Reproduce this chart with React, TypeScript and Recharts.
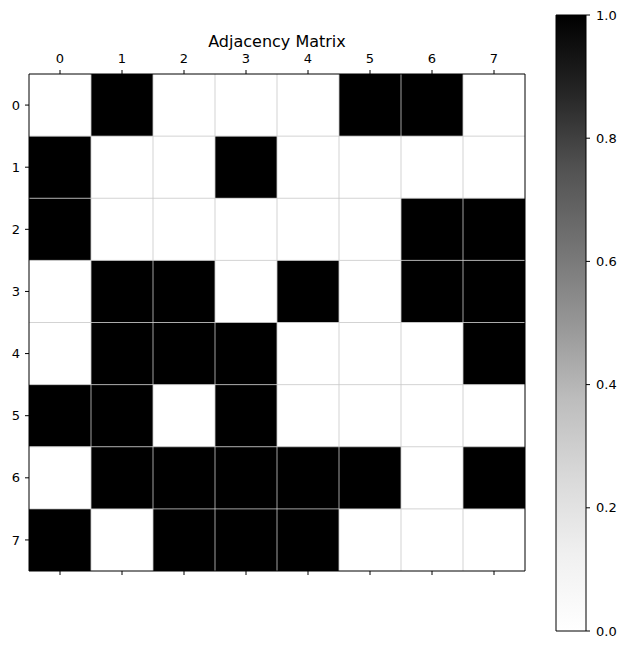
import React from 'react';
import { ComposedChart, XAxis, YAxis, ReferenceArea, ReferenceLine, Scatter, Bar } from 'recharts';

const TITLE = 'Adjacency Matrix';
const NODE_TICKS = [0, 1, 2, 3, 4, 5, 6, 7];
const COLORBAR_TICKS = [0, 0.2, 0.4, 0.6, 0.8, 1.0];

const row0 = [0, 1, 0, 0, 0, 1, 1, 0];
const row1 = [1, 0, 0, 1, 0, 0, 0, 0];
const row2 = [1, 0, 0, 0, 0, 0, 1, 1];
const row3 = [0, 1, 1, 0, 1, 0, 1, 1];
const row4 = [0, 1, 1, 1, 0, 0, 0, 1];
const row5 = [1, 1, 0, 1, 0, 0, 0, 0];
const row6 = [0, 1, 1, 1, 1, 1, 0, 1];
const row7 = [1, 0, 1, 1, 1, 0, 0, 0];
const MATRIX = [row0, row1, row2, row3, row4, row5, row6, row7];

// matplotlib "Greys" colormap stops
const GREYS = ['#ffffff', '#f0f0f0', '#d9d9d9', '#bdbdbd', '#969696', '#737373', '#525252', '#252525', '#000000'];

const FONT = 'DejaVu Sans';

function hexToRgb(h: string) {
  const n = parseInt(h.slice(1), 16);
  return [(n >> 16) & 255, (n >> 8) & 255, n & 255];
}
function greys(v: number) {
  const t = Math.max(0, Math.min(1, v)) * (GREYS.length - 1);
  const i = Math.min(GREYS.length - 2, Math.floor(t));
  const f = t - i;
  const a = hexToRgb(GREYS[i]);
  const b = hexToRgb(GREYS[i + 1]);
  const c = a.map((x, k) => Math.round(x + (b[k] - x) * f));
  return `rgb(${c[0]},${c[1]},${c[2]})`;
}

const cells = MATRIX.flatMap((row, r) => row.map((v, c) => ({ row: r, col: c, value: v })));
const gridPositions = NODE_TICKS.slice(0, -1).map((t) => t + 0.5);
const colorbarData = [{ name: 'cb', value: 1 }];

const tickStyle = { fill: '#000', fontSize: 13, fontFamily: FONT };
const blackLine = { stroke: '#000', strokeWidth: 1 };

export default function App() {
  return (
    <div style={{ position: 'absolute', left: 0, top: 0, width: 628, height: 649, background: '#fff' }}>
      <div style={{ position: 'absolute', left: 0, top: 0 }}>
        <ComposedChart width={540} height={649} data={cells} margin={{ top: 44, right: 15, bottom: 58, left: 0 }}>
          <XAxis
            xAxisId="top"
            orientation="top"
            dataKey="col"
            type="number"
            domain={[-0.5, 7.5]}
            ticks={NODE_TICKS}
            interval={0}
            allowDataOverflow
            height={30}
            tickSize={4}
            tickMargin={7}
            axisLine={blackLine}
            tickLine={blackLine}
            tick={tickStyle}
          />
          <XAxis
            xAxisId="bottom"
            orientation="bottom"
            dataKey="col"
            type="number"
            domain={[-0.5, 7.5]}
            ticks={NODE_TICKS}
            interval={0}
            allowDataOverflow
            height={20}
            tickSize={4}
            axisLine={blackLine}
            tickLine={blackLine}
            tick={tickStyle}
            tickFormatter={() => ' '}
          />
          <YAxis
            yAxisId="left"
            dataKey="row"
            type="number"
            reversed
            domain={[-0.5, 7.5]}
            ticks={NODE_TICKS}
            interval={0}
            allowDataOverflow
            width={29}
            tickSize={4}
            tickMargin={5}
            axisLine={blackLine}
            tickLine={blackLine}
            tick={tickStyle}
          />
          {cells.map((c) => (
            <ReferenceArea
              key={`cell-${c.row}-${c.col}`}
              xAxisId="top"
              yAxisId="left"
              x1={c.col - 0.5}
              x2={c.col + 0.5}
              y1={c.row - 0.5}
              y2={c.row + 0.5}
              fill={greys(c.value)}
              fillOpacity={1}
              stroke="none"
              ifOverflow="visible"
            />
          ))}
          {gridPositions.map((p) => (
            <ReferenceLine
              key={`gx-${p}`}
              xAxisId="top"
              yAxisId="left"
              x={p}
              stroke="#c8c8c8"
              strokeOpacity={0.8}
              strokeWidth={1}
            />
          ))}
          {gridPositions.map((p) => (
            <ReferenceLine
              key={`gy-${p}`}
              xAxisId="top"
              yAxisId="left"
              y={p}
              stroke="#c8c8c8"
              strokeOpacity={0.8}
              strokeWidth={1}
            />
          ))}
          <ReferenceLine
            xAxisId="top"
            yAxisId="left"
            x={7.5}
            stroke="#000"
            strokeWidth={1}
            ifOverflow="visible"
          />
          <Scatter
            xAxisId="top"
            yAxisId="left"
            dataKey="row"
            fill="none"
            isAnimationActive={false}
            shape={() => <g />}
          />
          <text x={277} y={47} textAnchor="middle" fontSize={16} fontFamily={FONT} fill="#000">
            {TITLE}
          </text>
        </ComposedChart>
      </div>
      <div style={{ position: 'absolute', left: 540, top: 0 }}>
        <ComposedChart width={88} height={649} data={colorbarData} margin={{ top: 15, right: 0, bottom: 18, left: 16 }} barCategoryGap={0}>
          <defs>
            <linearGradient id="greysGrad" x1="0" y1="1" x2="0" y2="0">
              {GREYS.map((g, i) => (
                <stop key={i} offset={`${(i / (GREYS.length - 1)) * 100}%`} stopColor={g} />
              ))}
            </linearGradient>
          </defs>
          <XAxis dataKey="name" hide />
          <YAxis
            orientation="right"
            type="number"
            domain={[0, 1]}
            ticks={COLORBAR_TICKS}
            interval={0}
            width={42}
            tickSize={4}
            tickMargin={6}
            axisLine={false}
            tickLine={blackLine}
            tick={tickStyle}
            tickFormatter={(v: number) => v.toFixed(1)}
          />
          <Bar dataKey="value" fill="url(#greysGrad)" stroke="#000" strokeWidth={1} isAnimationActive={false} />
        </ComposedChart>
      </div>
    </div>
  );
}
